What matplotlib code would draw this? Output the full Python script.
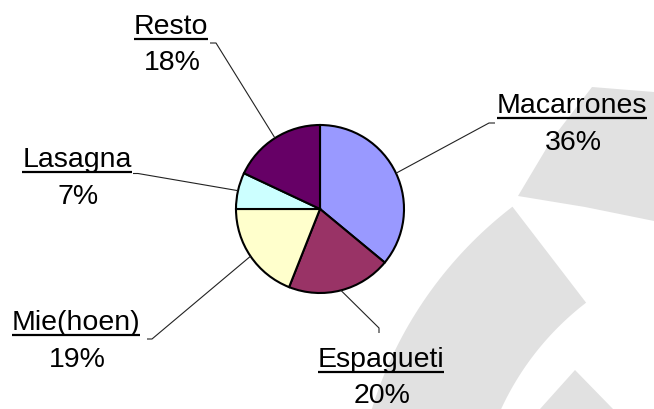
import numpy as np
import matplotlib
matplotlib.use('Agg')
import matplotlib.pyplot as plt
from matplotlib.patches import Polygon

# ---- data ----
labels = ['Macarrones', 'Espagueti', 'Mie(hoen)', 'Lasagna', 'Resto']
values = [36, 20, 19, 7, 18]
pct_labels = ['36%', '20%', '19%', '7%', '18%']
colors = ['#9999FF', '#993366', '#FFFFCC', '#CCFFFF', '#660066']

# ---- layout (pixel coords, y measured from top) ----
W, H = 654, 409
name_pos = [(572, 113), (381, 367), (76, 330), (77, 167), (171, 34)]
pct_pos = [(573, 150), (382, 403), (77, 367), (78, 204), (172, 70)]
leader_pts = [
    [(489, 123), (495, 123)],
    [(379, 328), (379, 333)],
    [(152, 339), (147, 339)],
    [(138, 173.5), (133, 173.5)],
    [(216, 43), (210, 43)],
]
center_px = (320, 209)
radius_px = 84

fig = plt.figure(figsize=(W / 100, H / 100), dpi=100)
fig.patch.set_facecolor('white')
ax = fig.add_axes([0, 0, 1, 1])

def Y(y):
    return H - y

# watermark shapes in background
wm = '#e1e1e1'
def band(cx, cy, r0, r1, a0, a1, n=60):
    # annulus sector in pixel coords (y down); angles in degrees, y-up convention
    t = np.deg2rad(np.linspace(a0, a1, n))
    outer = [(cx + r1 * np.cos(a), cy - r1 * np.sin(a)) for a in t]
    inner = [(cx + r0 * np.cos(a), cy - r0 * np.sin(a)) for a in t[::-1]]
    return outer + inner

shapes = [
    [(592, 87), (654, 92), (654, 221), (585, 207), (518, 196), (552, 139)],
    band(759, 528, 284, 405, 127.5, 185),
    [(575, 370), (613, 409), (540, 409)],
]
for s in shapes:
    ax.add_patch(Polygon([(x, Y(y)) for x, y in s], closed=True,
                         facecolor=wm, edgecolor='none', zorder=0))

wedges, _ = ax.pie(values, colors=colors, startangle=90, counterclock=False,
                   radius=radius_px, center=(center_px[0], Y(center_px[1])),
                   wedgeprops=dict(edgecolor='black', linewidth=1.5),
                   frame=True)
for w in wedges:
    w.set_zorder(2)

ax.set_xlim(0, W)
ax.set_ylim(0, H)
ax.set_aspect('auto')
ax.axis('off')

font = dict(family=['Liberation Sans', 'DejaVu Sans'], fontsize=20.5, color='black')

texts = []
for i, lab in enumerate(labels):
    nx, ny = name_pos[i]
    t = ax.text(nx, Y(ny), lab, ha='center', va='baseline', zorder=3, **font)
    texts.append((t, ny))
    px, py = pct_pos[i]
    ax.text(px, Y(py), pct_labels[i], ha='center', va='baseline', zorder=3, **font)

    # leader line from wedge mid-point on the edge
    w = wedges[i]
    mid = np.deg2rad((w.theta1 + w.theta2) / 2)
    cx, cy = w.center
    ex, ey = cx + w.r * np.cos(mid), cy + w.r * np.sin(mid)
    xs = [ex] + [p[0] for p in leader_pts[i]]
    ys = [ey] + [Y(p[1]) for p in leader_pts[i]]
    ax.plot(xs, ys, color='#222222', lw=0.8, zorder=3, solid_capstyle='butt')

fig.canvas.draw()
renderer = fig.canvas.get_renderer()
inv = ax.transData.inverted()
for t, ny in texts:
    bb = t.get_window_extent(renderer)
    (x0, _), (x1, _) = inv.transform([(bb.x0, bb.y0), (bb.x1, bb.y1)])
    ax.plot([x0, x1], [Y(ny + 5), Y(ny + 5)], color='black', lw=1.6, zorder=3,
            solid_capstyle='butt')

fig.savefig('out.png', dpi=100, facecolor='white')
